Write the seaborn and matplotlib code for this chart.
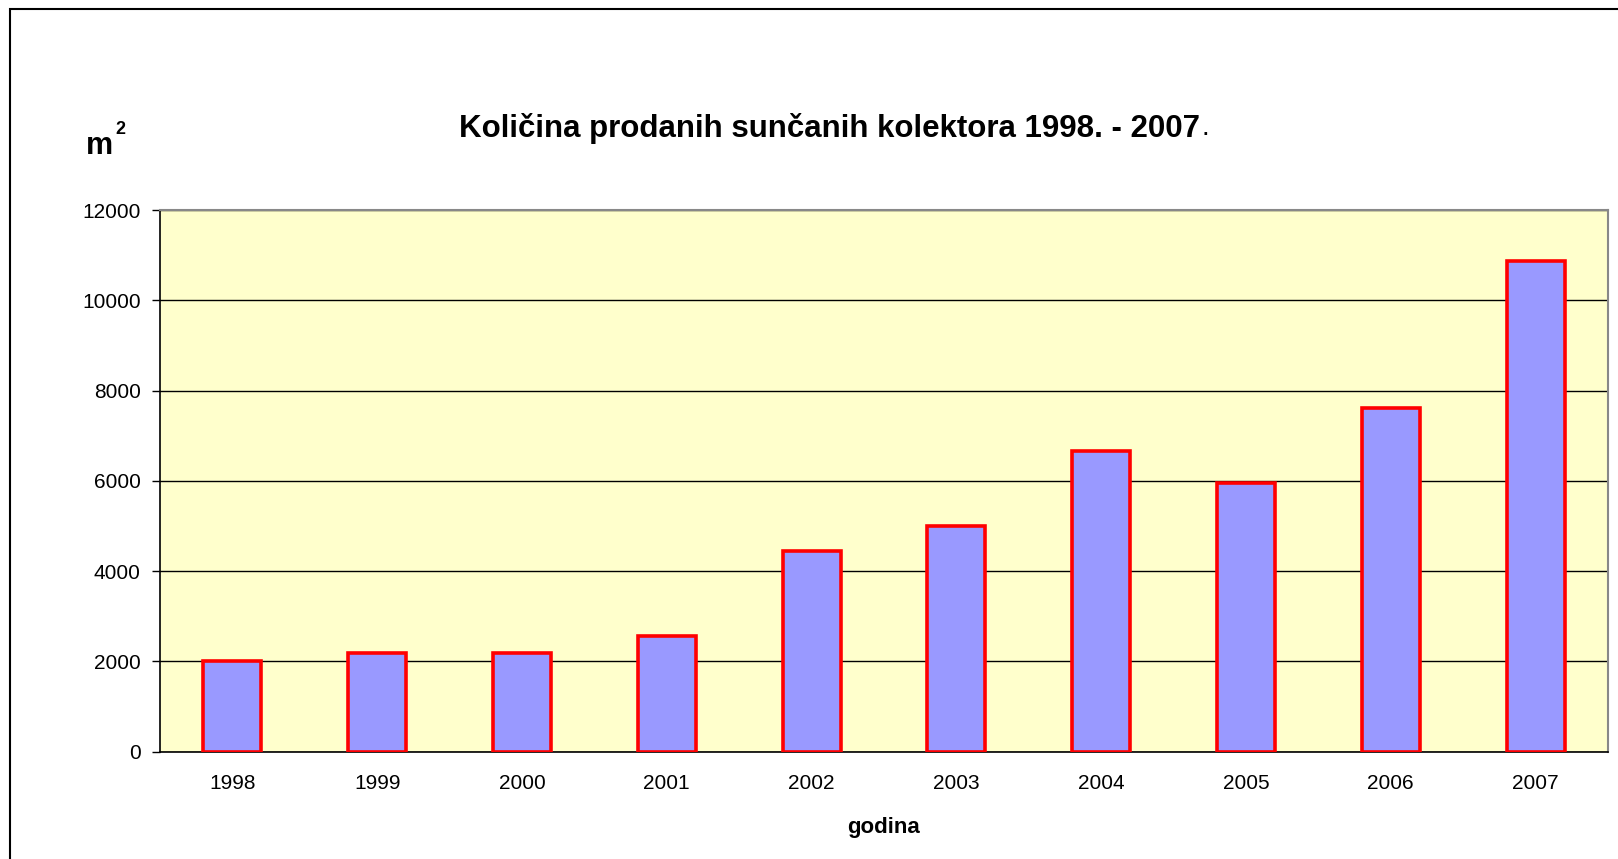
import matplotlib
matplotlib.use("Agg")
import matplotlib.pyplot as plt
from matplotlib.patches import Rectangle
import seaborn as sns
import pandas as pd

godine = ["1998", "1999", "2000", "2001", "2002", "2003", "2004", "2005", "2006", "2007"]
kolicina = [2000, 2180, 2180, 2560, 4440, 5000, 6660, 5960, 7610, 10870]
y_ticks = [0, 2000, 4000, 6000, 8000, 10000, 12000]

df = pd.DataFrame({"godina": godine, "m2": kolicina})

sns.set_style("white")
plt.rcParams["font.family"] = ["Liberation Sans", "DejaVu Sans"]
plt.rcParams["text.color"] = "black"
plt.rcParams["xtick.color"] = "black"
plt.rcParams["ytick.color"] = "black"
plt.rcParams["axes.labelcolor"] = "black"

fig = plt.figure(figsize=(16.18, 8.59), dpi=100)
ax = fig.add_axes([0.0989, 0.1249, 0.8949, 0.6306])
ax.set_facecolor("#FFFFCC")

sns.barplot(data=df, x="godina", y="m2", ax=ax, color="#9999FF", width=0.4,
            edgecolor="#FF0000", linewidth=2.6, saturation=1, zorder=3)

ax.set_ylim(0, 12000)
ax.set_xlim(-0.5, len(godine) - 0.5)
ax.set_yticks(y_ticks)
ax.set_yticklabels([str(v) for v in y_ticks], fontsize=15)
ax.yaxis.grid(True, color="black", linewidth=1.0, zorder=1)
ax.set_axisbelow(True)

# tick oznake izmedju kategorija
ax.set_xticks(range(len(godine)))
ax.set_xticklabels(godine, fontsize=15)
ax.set_xticks([i - 0.5 for i in range(len(godine) + 1)], minor=True)
ax.tick_params(axis="x", which="major", length=0, pad=16)
ax.tick_params(axis="x", which="minor", length=7, width=1, color="black", direction="out")
ax.tick_params(axis="y", which="major", length=6, width=1, color="black", direction="out", left=True, pad=8)

for s in ["left", "bottom"]:
    ax.spines[s].set_color("black")
    ax.spines[s].set_linewidth(1.2)
for s in ["top", "right"]:
    ax.spines[s].set_color("#888888")
    ax.spines[s].set_linewidth(1.5)

ax.set_ylabel("")
ax.set_xlabel("godina", fontsize=16, fontweight="bold", labelpad=17)

# naslov: tocka na kraju nije podebljana
fig.text(1200 / 1618, 1 - 128 / 859, "Količina prodanih sunčanih kolektora 1998. - 2007",
         ha="right", va="center", fontsize=22.5, fontweight="bold")
fig.text(1202 / 1618, 1 - 128 / 859, ".", ha="left", va="center", fontsize=20)
fig.text(86 / 1618, 1 - 146 / 859, "m", ha="left", va="center", fontsize=22, fontweight="bold")
fig.text(115 / 1618, 1 - 130 / 859, "2", ha="left", va="center", fontsize=13, fontweight="bold")

# okvir grafikona
fig.patches.append(Rectangle((10 / 1618, -0.1), 1.2, 1 - 8.5 / 859 + 0.1, transform=fig.transFigure,
                             fill=False, edgecolor="black", linewidth=1.5))

fig.savefig("out.png", dpi=100)
